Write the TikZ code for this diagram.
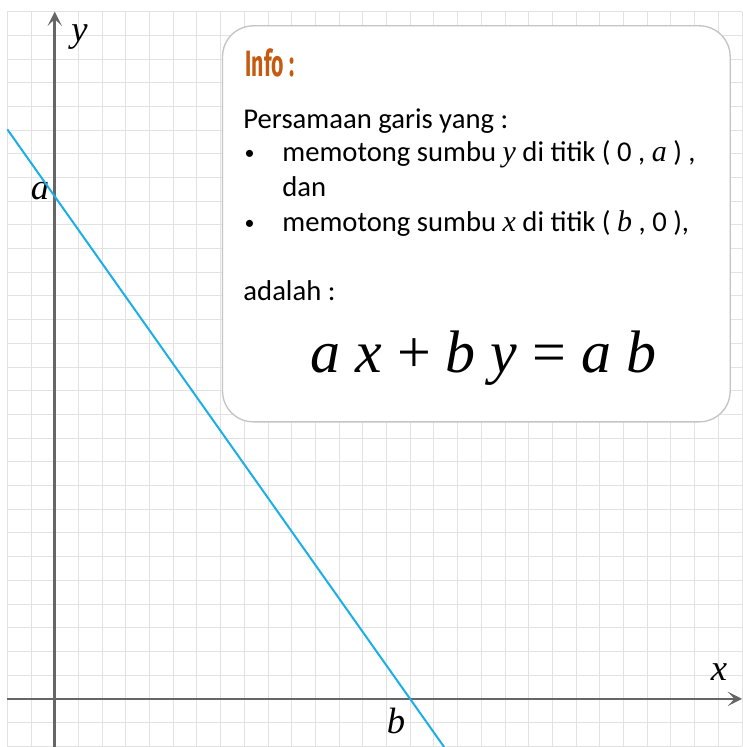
\documentclass[tikz,border=0pt]{standalone}
\usepackage{fontspec}
\setmainfont{Carlito}
\newfontfamily\timesfam{Liberation Serif}
\newfontfamily\infofam{Fira Sans}
\usetikzlibrary{arrows.meta}
\definecolor{gridgray}{HTML}{E2E2E2}
\definecolor{axisgray}{HTML}{666666}
\definecolor{linecyan}{HTML}{1CAEE6}
\definecolor{infoorange}{HTML}{C55A11}
\definecolor{boxgray}{HTML}{C4C4C4}
\newcommand{\vn}[1]{{\fontsize{18}{20}\timesfam\itshape #1}}

\begin{document}
\begin{tikzpicture}[
x=0.5cm, y=0.5cm,
gridline/.style={gridgray, line width=0.6pt},
axis/.style={axisgray, line width=1.5pt, -{Stealth[length=3mm, width=3mm, inset=1.4mm]}},
graph/.style={linecyan, line width=1.2pt},
infobox/.style={draw=boxgray, fill=white, line width=0.8pt, rounded corners=6.5mm},
lbl/.style={inner sep=0pt, font=\fontsize{22}{22}\timesfam\itshape},
txt/.style={anchor=base west, inner sep=0pt, font=\fontsize{17.2}{20}\selectfont},
bul/.style={anchor=base west, inner sep=0pt, font=\fontsize{12}{12}\selectfont},
eq/.style={anchor=base, inner sep=0pt, font=\fontsize{36}{36}\timesfam}
]
\useasboundingbox (-2.31,-2.03) rectangle (29.02,29.49);
\draw[gridline, step=0.5cm] (-2,-2) grid (29,29);

\coordinate (xstart) at (-2,0);
\coordinate (xend) at (29,0);
\coordinate (ystart) at (0,-2.03);
\coordinate (yend) at (0,29);
\draw[axis] (xstart) -- (xend);
\draw[axis] (ystart) -- (yend);

\node[lbl] (ylabel) at (1.04,27.93) {y};
\node[lbl] (xlabel) at (28.03,1.12) {x};
\node[lbl] (alabel) at (-0.62,21.43) {a};
\node[lbl] (blabel) at (14.4,-0.95) {b};

\coordinate (lnstart) at (-2,24.03);
\coordinate (lnend) at (16.43,-2.03);
\draw[graph] (lnstart) -- (lnend);

\draw[infobox] (7.08,11.69) rectangle (28.5,28.4);

\node[txt, font=\fontsize{22}{22}\infofam\bfseries, text=infoorange, xscale=0.58] (info) at (8.05,26.26) {Info :};
\node[txt] (intro) at (7.95,24.08) {Persamaan garis yang :};
\node[bul] (dot1) at (8.0,22.75) {•};
\node[txt] (pt1) at (9.59,22.67) {memotong sumbu \vn{y} di titik ( 0 , \vn{a} ) ,};
\node[txt] (dan) at (9.59,21.19) {dan};
\node[bul] (dot2) at (8.0,19.8) {•};
\node[txt] (pt2) at (9.59,19.72) {memotong sumbu \vn{x} di titik ( \vn{b} , 0 ),};
\node[txt] (adalah) at (7.95,16.79) {adalah :};
\node[eq] (rumus) at (18.09,13.77) {\textit{a x} + \textit{b y} = \textit{a b}};
\end{tikzpicture}
\end{document}
